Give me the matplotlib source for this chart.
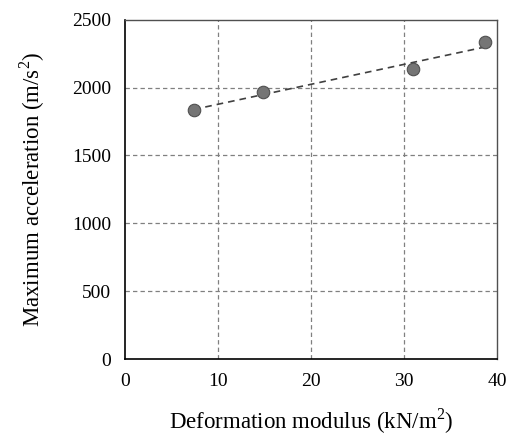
import matplotlib
matplotlib.use("Agg")
import matplotlib.pyplot as plt
import numpy as np

x_vals = [7.4, 14.8, 31.0, 38.7]
y_vals = [1836, 1969, 2136, 2333]
x_ticks = [0, 10, 20, 30, 40]
y_ticks = [0, 500, 1000, 1500, 2000, 2500]

plt.rcParams['font.family'] = ['Liberation Serif', 'DejaVu Serif']
plt.rcParams['mathtext.fontset'] = 'custom'
plt.rcParams['mathtext.rm'] = 'Liberation Serif'

fig = plt.figure(figsize=(5.1, 4.4), dpi=100)
ax = fig.add_axes([0.245, 0.184, 0.730, 0.771])

for t in x_ticks[1:-1]:
    ax.axvline(t, color='#808080', lw=0.9, ls=(0, (3.5, 2.5)), zorder=1)
for t in y_ticks[1:-1]:
    ax.axhline(t, color='#808080', lw=0.9, ls=(0, (3.5, 2.5)), zorder=1)

coef = np.polyfit(x_vals, y_vals, 1)
xs = np.array([min(x_vals), max(x_vals)])
ax.plot(xs, np.polyval(coef, xs), color='#404040', lw=1.2, ls=(0, (4, 3)), zorder=2)
ax.plot(x_vals, y_vals, 'o', ms=9, mfc='#757575', mec='#505050', mew=0.8, zorder=3)

ax.set_xlim(0, 40)
ax.set_ylim(0, 2500)
ax.set_xticks(x_ticks)
ax.set_yticks(y_ticks)
ax.tick_params(length=0, labelsize=14)
ax.tick_params(axis='x', pad=10)
ax.tick_params(axis='y', pad=10)

for s in ['left', 'bottom']:
    ax.spines[s].set_color('black')
    ax.spines[s].set_linewidth(1.2)
for s in ['top', 'right']:
    ax.spines[s].set_color('#505050')
    ax.spines[s].set_linewidth(1.0)

ax.set_xlabel('Deformation modulus (kN/m$^2$)', fontsize=16.5, labelpad=12)
ax.set_ylabel('Maximum acceleration (m/s$^2$)', fontsize=16.5, labelpad=18)

fig.savefig('out.png', dpi=100)
